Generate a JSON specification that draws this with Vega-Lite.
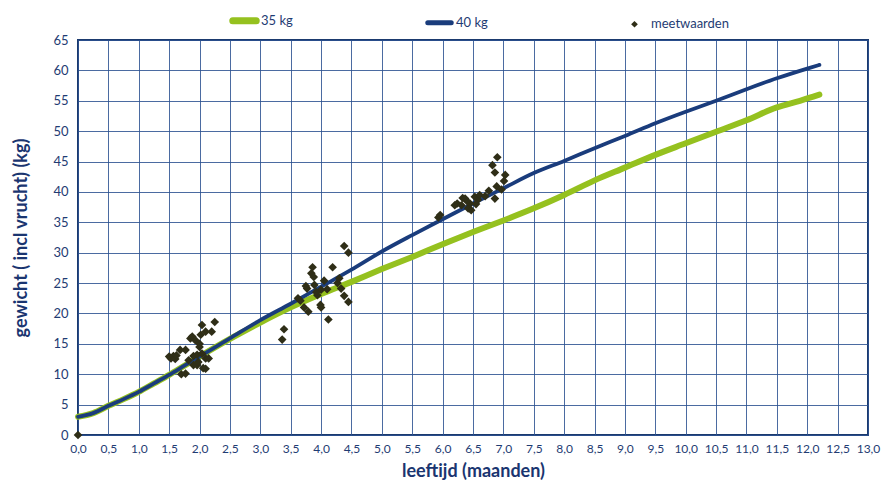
{
  "$schema": "https://vega.github.io/schema/vega-lite/v6.json",
  "width": 790,
  "height": 395,
  "autosize": {"type": "none"},
  "padding": {"left": 78, "top": 40, "right": 13, "bottom": 48},
  "background": "white",
  "config": {
    "font": "Lato",
    "view": {"stroke": "#1b3a6e", "strokeWidth": 2},
    "axis": {
      "labelColor": "#1f3c73",
      "titleColor": "#1a3570",
      "labelFont": "Lato",
      "titleFont": "Lato",
      "gridColor": "#2c5190",
      "gridOpacity": 0.85,
      "gridWidth": 1,
      "domain": false,
      "ticks": false
    }
  },
  "datasets": {
    "curves": [
      {"series": "35 kg", "age": 0.0, "weight": 3.0},
      {"series": "35 kg", "age": 0.25, "weight": 3.6},
      {"series": "35 kg", "age": 0.5, "weight": 4.8},
      {"series": "35 kg", "age": 0.75, "weight": 5.9},
      {"series": "35 kg", "age": 1.0, "weight": 7.1},
      {"series": "35 kg", "age": 1.25, "weight": 8.5},
      {"series": "35 kg", "age": 1.5, "weight": 9.9},
      {"series": "35 kg", "age": 1.75, "weight": 11.4},
      {"series": "35 kg", "age": 2.0, "weight": 12.9},
      {"series": "35 kg", "age": 2.5, "weight": 15.8},
      {"series": "35 kg", "age": 3.0, "weight": 18.5},
      {"series": "35 kg", "age": 3.5, "weight": 21.0},
      {"series": "35 kg", "age": 4.0, "weight": 23.2},
      {"series": "35 kg", "age": 4.5, "weight": 25.2},
      {"series": "35 kg", "age": 5.0, "weight": 27.3},
      {"series": "35 kg", "age": 5.5, "weight": 29.3},
      {"series": "35 kg", "age": 6.0, "weight": 31.4},
      {"series": "35 kg", "age": 6.5, "weight": 33.4},
      {"series": "35 kg", "age": 7.0, "weight": 35.3},
      {"series": "35 kg", "age": 7.5, "weight": 37.3},
      {"series": "35 kg", "age": 8.0, "weight": 39.5},
      {"series": "35 kg", "age": 8.5, "weight": 41.9},
      {"series": "35 kg", "age": 9.0, "weight": 44.0},
      {"series": "35 kg", "age": 9.5, "weight": 46.1},
      {"series": "35 kg", "age": 10.0, "weight": 48.0},
      {"series": "35 kg", "age": 10.5, "weight": 49.9},
      {"series": "35 kg", "age": 11.0, "weight": 51.8},
      {"series": "35 kg", "age": 11.5, "weight": 53.9},
      {"series": "35 kg", "age": 11.88, "weight": 55.0},
      {"series": "35 kg", "age": 12.2, "weight": 56.0},
      {"series": "40 kg", "age": 0.0, "weight": 3.0},
      {"series": "40 kg", "age": 0.25, "weight": 3.6},
      {"series": "40 kg", "age": 0.5, "weight": 4.8},
      {"series": "40 kg", "age": 0.75, "weight": 5.9},
      {"series": "40 kg", "age": 1.0, "weight": 7.1},
      {"series": "40 kg", "age": 1.25, "weight": 8.5},
      {"series": "40 kg", "age": 1.5, "weight": 9.9},
      {"series": "40 kg", "age": 1.75, "weight": 11.4},
      {"series": "40 kg", "age": 2.0, "weight": 12.9},
      {"series": "40 kg", "age": 2.5, "weight": 15.9},
      {"series": "40 kg", "age": 3.0, "weight": 18.9},
      {"series": "40 kg", "age": 3.5, "weight": 21.6},
      {"series": "40 kg", "age": 4.0, "weight": 24.4},
      {"series": "40 kg", "age": 4.5, "weight": 27.2},
      {"series": "40 kg", "age": 5.0, "weight": 30.2},
      {"series": "40 kg", "age": 5.5, "weight": 32.9},
      {"series": "40 kg", "age": 6.0, "weight": 35.5},
      {"series": "40 kg", "age": 6.5, "weight": 38.1},
      {"series": "40 kg", "age": 7.0, "weight": 40.6},
      {"series": "40 kg", "age": 7.5, "weight": 43.1},
      {"series": "40 kg", "age": 8.0, "weight": 45.1},
      {"series": "40 kg", "age": 8.5, "weight": 47.2},
      {"series": "40 kg", "age": 9.0, "weight": 49.2},
      {"series": "40 kg", "age": 9.5, "weight": 51.3},
      {"series": "40 kg", "age": 10.0, "weight": 53.2},
      {"series": "40 kg", "age": 10.5, "weight": 55.0},
      {"series": "40 kg", "age": 11.0, "weight": 56.9},
      {"series": "40 kg", "age": 11.5, "weight": 58.7},
      {"series": "40 kg", "age": 12.0, "weight": 60.3},
      {"series": "40 kg", "age": 12.2, "weight": 60.9}
    ],
    "points": [
      {"series": "meetwaarden", "age": 0.0, "weight": 0.0},
      {"series": "meetwaarden", "age": 1.5, "weight": 12.9},
      {"series": "meetwaarden", "age": 1.53, "weight": 12.6},
      {"series": "meetwaarden", "age": 1.57, "weight": 13.0},
      {"series": "meetwaarden", "age": 1.6, "weight": 12.5},
      {"series": "meetwaarden", "age": 1.62, "weight": 13.1},
      {"series": "meetwaarden", "age": 1.68, "weight": 14.0},
      {"series": "meetwaarden", "age": 1.7, "weight": 10.0},
      {"series": "meetwaarden", "age": 1.77, "weight": 14.0},
      {"series": "meetwaarden", "age": 1.77, "weight": 10.1},
      {"series": "meetwaarden", "age": 1.82, "weight": 12.3},
      {"series": "meetwaarden", "age": 1.85, "weight": 15.9},
      {"series": "meetwaarden", "age": 1.88, "weight": 16.2},
      {"series": "meetwaarden", "age": 1.9, "weight": 11.5},
      {"series": "meetwaarden", "age": 1.9, "weight": 13.0},
      {"series": "meetwaarden", "age": 1.93, "weight": 15.6},
      {"series": "meetwaarden", "age": 1.96, "weight": 11.5},
      {"series": "meetwaarden", "age": 1.96, "weight": 13.2},
      {"series": "meetwaarden", "age": 2.0, "weight": 14.5},
      {"series": "meetwaarden", "age": 2.02, "weight": 16.5},
      {"series": "meetwaarden", "age": 2.04, "weight": 18.1},
      {"series": "meetwaarden", "age": 2.04, "weight": 13.4},
      {"series": "meetwaarden", "age": 2.06, "weight": 11.0},
      {"series": "meetwaarden", "age": 2.1, "weight": 10.9},
      {"series": "meetwaarden", "age": 2.1, "weight": 12.6},
      {"series": "meetwaarden", "age": 2.1, "weight": 17.0},
      {"series": "meetwaarden", "age": 2.15, "weight": 12.6},
      {"series": "meetwaarden", "age": 2.2, "weight": 17.0},
      {"series": "meetwaarden", "age": 2.25, "weight": 18.6},
      {"series": "meetwaarden", "age": 1.98, "weight": 12.0},
      {"series": "meetwaarden", "age": 2.0, "weight": 15.0},
      {"series": "meetwaarden", "age": 3.36, "weight": 15.7},
      {"series": "meetwaarden", "age": 3.39, "weight": 17.4},
      {"series": "meetwaarden", "age": 3.62, "weight": 22.5},
      {"series": "meetwaarden", "age": 3.66, "weight": 22.1},
      {"series": "meetwaarden", "age": 3.72, "weight": 21.0},
      {"series": "meetwaarden", "age": 3.77, "weight": 24.1},
      {"series": "meetwaarden", "age": 3.79, "weight": 20.3},
      {"series": "meetwaarden", "age": 3.84, "weight": 26.6},
      {"series": "meetwaarden", "age": 3.86, "weight": 27.6},
      {"series": "meetwaarden", "age": 3.88, "weight": 26.0},
      {"series": "meetwaarden", "age": 3.89, "weight": 24.7},
      {"series": "meetwaarden", "age": 3.94, "weight": 23.0},
      {"series": "meetwaarden", "age": 3.99, "weight": 21.4},
      {"series": "meetwaarden", "age": 4.0, "weight": 21.0},
      {"series": "meetwaarden", "age": 4.0, "weight": 23.9},
      {"series": "meetwaarden", "age": 4.05, "weight": 25.4},
      {"series": "meetwaarden", "age": 4.12, "weight": 19.0},
      {"series": "meetwaarden", "age": 4.19, "weight": 27.6},
      {"series": "meetwaarden", "age": 4.27, "weight": 25.0},
      {"series": "meetwaarden", "age": 4.3, "weight": 25.8},
      {"series": "meetwaarden", "age": 4.33, "weight": 24.1},
      {"series": "meetwaarden", "age": 4.38, "weight": 22.9},
      {"series": "meetwaarden", "age": 4.38, "weight": 31.1},
      {"series": "meetwaarden", "age": 4.45, "weight": 21.9},
      {"series": "meetwaarden", "age": 4.45, "weight": 30.0},
      {"series": "meetwaarden", "age": 3.75, "weight": 24.5},
      {"series": "meetwaarden", "age": 4.1, "weight": 24.0},
      {"series": "meetwaarden", "age": 3.92, "weight": 23.5},
      {"series": "meetwaarden", "age": 5.93, "weight": 35.8},
      {"series": "meetwaarden", "age": 5.96, "weight": 36.2},
      {"series": "meetwaarden", "age": 6.2, "weight": 37.8},
      {"series": "meetwaarden", "age": 6.24, "weight": 38.1},
      {"series": "meetwaarden", "age": 6.31, "weight": 37.8},
      {"series": "meetwaarden", "age": 6.33, "weight": 39.0},
      {"series": "meetwaarden", "age": 6.37, "weight": 38.9},
      {"series": "meetwaarden", "age": 6.42, "weight": 37.3},
      {"series": "meetwaarden", "age": 6.45, "weight": 38.1},
      {"series": "meetwaarden", "age": 6.47, "weight": 37.0},
      {"series": "meetwaarden", "age": 6.53, "weight": 39.2},
      {"series": "meetwaarden", "age": 6.58, "weight": 38.7},
      {"series": "meetwaarden", "age": 6.61, "weight": 39.5},
      {"series": "meetwaarden", "age": 6.7, "weight": 39.3},
      {"series": "meetwaarden", "age": 6.76, "weight": 40.2},
      {"series": "meetwaarden", "age": 6.82, "weight": 44.4},
      {"series": "meetwaarden", "age": 6.86, "weight": 43.2},
      {"series": "meetwaarden", "age": 6.86, "weight": 38.9},
      {"series": "meetwaarden", "age": 6.89, "weight": 40.9},
      {"series": "meetwaarden", "age": 6.9, "weight": 45.7},
      {"series": "meetwaarden", "age": 6.97, "weight": 40.4},
      {"series": "meetwaarden", "age": 7.01, "weight": 41.8},
      {"series": "meetwaarden", "age": 7.03, "weight": 42.8},
      {"series": "meetwaarden", "age": 6.4, "weight": 38.5},
      {"series": "meetwaarden", "age": 6.55, "weight": 38.0}
    ]
  },
  "encoding": {
    "x": {
      "field": "age",
      "type": "quantitative",
      "scale": {"domain": [0, 13], "nice": false, "zero": true},
      "axis": {
        "title": "leeftijd (maanden)",
        "values": [0, 0.5, 1, 1.5, 2, 2.5, 3, 3.5, 4, 4.5, 5, 5.5, 6, 6.5, 7, 7.5, 8, 8.5, 9, 9.5, 10, 10.5, 11, 11.5, 12, 12.5, 13],
        "labelExpr": "replace(format(datum.value, '.1f'), '.', ',')",
        "labelFontSize": 12,
        "labelPadding": 8,
        "labelFlush": false,
        "labelOverlap": false,
        "titleFontSize": 18,
        "titleFontWeight": "bold",
        "titlePadding": 8
      }
    },
    "y": {
      "field": "weight",
      "type": "quantitative",
      "scale": {"domain": [0, 65], "nice": false},
      "axis": {
        "title": "gewicht ( incl vrucht) (kg)",
        "values": [0, 5, 10, 15, 20, 25, 30, 35, 40, 45, 50, 55, 60, 65],
        "labelFontSize": 13,
        "labelPadding": 10,
        "titleFontSize": 18,
        "titleFontWeight": "bold",
        "titlePadding": 22
      }
    },
    "color": {
      "field": "series",
      "type": "nominal",
      "scale": {"domain": ["35 kg", "40 kg", "meetwaarden"], "range": ["#95c11f", "#1a3c7c", "#2f2e17"]},
      "legend": {
        "title": null,
        "orient": "none",
        "direction": "horizontal",
        "legendX": 160,
        "legendY": -26,
        "labelFontSize": 13,
        "labelColor": "#1f3c73",
        "labelFont": "Lato",
        "columnPadding": 78,
        "gridAlign": "all",
        "labelOffset": 10,
        "symbolType": "stroke",
        "symbolSize": 550,
        "encode": {
          "symbols": {
            "update": {
              "shape": {"signal": "datum.value === 'meetwaarden' ? 'diamond' : 'stroke'"},
              "size": {"signal": "datum.value === 'meetwaarden' ? 45 : 550"},
              "fill": {"scale": "color", "field": "value"},
              "stroke": {"scale": "color", "field": "value"},
              "strokeWidth": {"signal": "datum.value === '35 kg' ? 7 : datum.value === '40 kg' ? 5 : 0"},
              "strokeCap": {"value": "round"},
              "opacity": {"value": 1},
              "fillOpacity": {"value": 1},
              "strokeOpacity": {"value": 1}
            }
          }
        }
      }
    }
  },
  "layer": [
    {
      "data": {"name": "curves"},
      "transform": [{"filter": "datum.series === '35 kg'"}],
      "mark": {"type": "line", "strokeWidth": 6, "strokeCap": "round", "strokeJoin": "round", "interpolate": "monotone"}
    },
    {
      "data": {"name": "curves"},
      "transform": [{"filter": "datum.series === '40 kg'"}],
      "mark": {"type": "line", "strokeWidth": 3.8, "strokeCap": "round", "strokeJoin": "round", "interpolate": "monotone"}
    },
    {
      "data": {"name": "points"},
      "mark": {"type": "point", "shape": "diamond", "filled": true, "size": 75, "opacity": 1, "clip": false}
    }
  ]
}
